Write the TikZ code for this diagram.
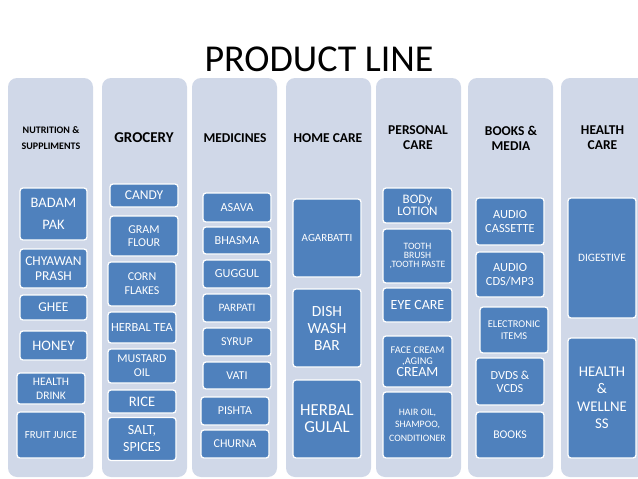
\documentclass[tikz,border=0pt]{standalone}
\usepackage{fontspec}
\setmainfont{Carlito}
\definecolor{columnfill}{RGB}{208,216,232}
\definecolor{itemfill}{RGB}{79,129,189}
\tikzset{
	column/.style={fill=columnfill, rounded corners=9pt, minimum width=85, minimum height=399, inner sep=0pt},
	header/.style={align=center, inner sep=0pt, font=\bfseries\fontsize{13.5}{15}\selectfont},
	item/.style={fill=itemfill, draw=white, line width=1.3pt, rounded corners=3pt, text=white, align=center, inner sep=0pt},
	txt/.style 2 args={font=\fontsize{#1}{#2}\selectfont},
}
\begin{document}
\begin{tikzpicture}[x=1pt, y=-1pt]
	\useasboundingbox (0, 0) rectangle (638, 479);
	\clip (0, 0) rectangle (638, 479);
	\fill[white] (0, 0) rectangle (638, 479);
	\node[inner sep=0pt, font=\fontsize{38}{40}\selectfont] (title) at (319, 59) {PRODUCT LINE};
	\foreach \x/\name in {50.5/nutrition, 144.5/grocery, 234.5/medicines, 328.5/homecare, 418.5/personal, 510.5/books, 603.5/healthcare}
		\node[column] (\name) at (\x, 277.5) {};
	\node[header, font=\bfseries\fontsize{10}{16}\selectfont] (hnutrition) at (51, 138) {NUTRITION \&\\SUPPLIMENTS};
	\node[header, font=\bfseries\fontsize{15}{16}\selectfont] (hgrocery) at (144, 138) {GROCERY};
	\node[header] (hmedicines) at (235, 138) {MEDICINES};
	\node[header] (hhomecare) at (328, 138) {HOME CARE};
	\node[header] (hpersonal) at (418, 138) {PERSONAL\\CARE};
	\node[header] (hbooks) at (511, 138) {BOOKS \&\\MEDIA};
	\node[header] (hhealthcare) at (602.5, 138) {HEALTH\\CARE};
	\node[item, txt={14.5}{22}, minimum width=67, minimum height=52] (badam) at (53.5, 214) {BADAM\\PAK};
	\node[item, txt={13.5}{15}, minimum width=67, minimum height=39] (chyawan) at (53.5, 268.5) {CHYAWAN\\PRASH};
	\node[item, txt={13.5}{15}, minimum width=67, minimum height=25] (ghee) at (53.5, 307.5) {GHEE};
	\node[item, txt={14.5}{15}, minimum width=67, minimum height=29] (honey) at (53.5, 345.5) {HONEY};
	\node[item, txt={11.5}{14}, minimum width=68, minimum height=31] (healthdrink) at (51, 388.5) {HEALTH\\DRINK};
	\node[item, txt={10.8}{12}, minimum width=68, minimum height=46] (fruitjuice) at (51, 435) {FRUIT JUICE};
	\node[item, txt={13.5}{15}, minimum width=68, minimum height=23] (candy) at (144, 195.5) {CANDY};
	\node[item, txt={12}{13}, minimum width=68, minimum height=40] (gramflour) at (144, 236) {GRAM\\FLOUR};
	\node[item, txt={12}{14}, minimum width=68, minimum height=44] (cornflakes) at (142, 284) {CORN\\FLAKES};
	\node[item, txt={12.5}{14}, minimum width=68, minimum height=31] (herbaltea) at (142, 327.5) {HERBAL TEA};
	\node[item, txt={12}{14}, minimum width=68, minimum height=34] (mustardoil) at (142, 366) {MUSTARD\\OIL};
	\node[item, txt={14.5}{15}, minimum width=68, minimum height=23] (rice) at (142, 401.5) {RICE};
	\node[item, txt={14}{17}, minimum width=68, minimum height=43] (saltspices) at (142, 439) {SALT,\\SPICES};
	\node[item, txt={12.3}{14}, minimum width=68, minimum height=29] (asava) at (237, 207.5) {ASAVA};
	\node[item, txt={12.3}{14}, minimum width=68, minimum height=27] (bhasma) at (237, 240.5) {BHASMA};
	\node[item, txt={12.3}{14}, minimum width=68, minimum height=28] (guggul) at (237, 274) {GUGGUL};
	\node[item, txt={11.3}{14}, minimum width=68, minimum height=28] (parpati) at (237, 308) {PARPATI};
	\node[item, txt={12}{14}, minimum width=68, minimum height=28] (syrup) at (237, 342) {SYRUP};
	\node[item, txt={12}{14}, minimum width=68, minimum height=27] (vati) at (237, 375.5) {VATI};
	\node[item, txt={12}{14}, minimum width=68, minimum height=28] (pishta) at (235, 411) {PISHTA};
	\node[item, txt={12}{14}, minimum width=68, minimum height=28] (churna) at (235, 444) {CHURNA};
	\node[item, txt={11}{12}, minimum width=68, minimum height=78] (agarbatti) at (327, 238) {AGARBATTI};
	\node[item, txt={15.5}{17}, minimum width=68, minimum height=78] (dishwash) at (327, 328) {DISH\\WASH\\BAR};
	\node[item, txt={16.8}{17}, minimum width=68, minimum height=78] (gulal) at (327, 419) {HERBAL\\GULAL};
	\node[item, txt={13}{12}, minimum width=69, minimum height=35] (bodylotion) at (417.5, 205.5) {BODy\\LOTION};
	\node[item, txt={9.7}{8.7}, minimum width=69, minimum height=54] (toothpaste) at (417.5, 256) {TOOTH\\BRUSH\\,TOOTH PASTE};
	\node[item, txt={14}{15}, minimum width=69, minimum height=34] (eyecare) at (417.5, 305) {EYE CARE};
	\node[item, txt={10.3}{11}, minimum width=69, minimum height=51] (facecream) at (417.5, 361.5) {FACE CREAM\\,AGING\\[1pt]{\fontsize{14}{14}\selectfont CREAM}};
	\node[item, txt={9.8}{12}, minimum width=69, minimum height=66] (hairoil) at (417.5, 425) {HAIR OIL,\\SHAMPOO,\\[2pt]CONDITIONER};
	\node[item, txt={12.4}{14}, minimum width=68, minimum height=47] (cassette) at (510, 221.5) {AUDIO\\CASSETTE};
	\node[item, txt={12.4}{14}, minimum width=68, minimum height=45] (cds) at (510, 274.5) {AUDIO\\CDS/MP3};
	\node[item, txt={10.4}{12}, minimum width=68, minimum height=46] (electronic) at (514, 330) {ELECTRONIC\\ITEMS};
	\node[item, txt={12.3}{13}, minimum width=68, minimum height=47] (dvds) at (510, 381.5) {DVDS \&\\VCDS};
	\node[item, txt={11.8}{13}, minimum width=68, minimum height=46] (booksitem) at (510, 435) {BOOKS};
	\node[item, txt={11.3}{12}, minimum width=68, minimum height=120] (digestive) at (602, 258) {DIGESTIVE};
	\node[item, txt={14.8}{17.5}, minimum width=68, minimum height=120] (wellness) at (602, 398) {HEALTH\\\&\\WELLNE\\SS};
\end{tikzpicture}
\end{document}
